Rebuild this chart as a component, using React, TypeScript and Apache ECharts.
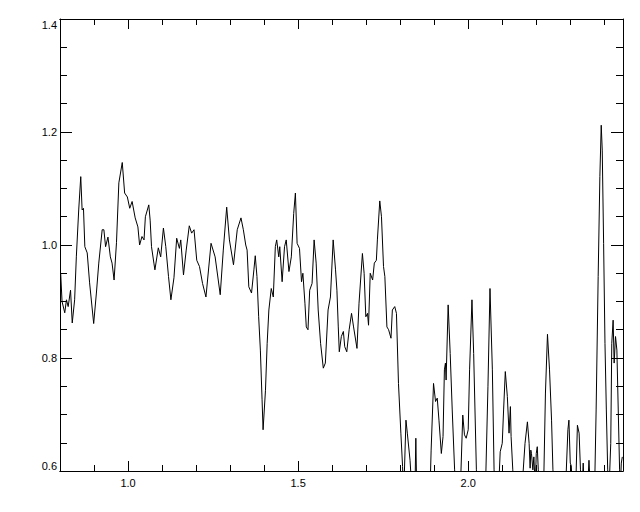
import React, { useEffect, useRef } from "react";
import * as echarts from "echarts";

const xValues = [
  0.802, 0.806, 0.814, 0.819, 0.824, 0.831, 0.836, 0.843, 0.848, 0.855, 0.861, 0.865, 0.869, 0.873, 0.880, 0.887, 0.899, 0.907, 0.914, 0.924,
  0.929, 0.934, 0.941, 0.948, 0.953, 0.959, 0.966, 0.973, 0.983, 0.990, 0.998, 1.005, 1.012, 1.021, 1.029, 1.034, 1.041, 1.047, 1.051, 1.061,
  1.065, 1.069, 1.076, 1.079, 1.089, 1.096, 1.104, 1.111, 1.119, 1.126, 1.135, 1.143, 1.151, 1.155, 1.163, 1.171, 1.180, 1.187, 1.194, 1.202,
  1.210, 1.219, 1.229, 1.244, 1.256, 1.271, 1.280, 1.290, 1.298, 1.310, 1.321, 1.332, 1.339, 1.346, 1.350, 1.355, 1.363, 1.370, 1.374, 1.379,
  1.384, 1.389, 1.394, 1.397, 1.404, 1.409, 1.414, 1.421, 1.427, 1.433, 1.437, 1.443, 1.446, 1.453, 1.460, 1.465, 1.473, 1.480, 1.487, 1.492,
  1.497, 1.504, 1.510, 1.514, 1.520, 1.524, 1.529, 1.534, 1.541, 1.547, 1.553, 1.559, 1.566, 1.574, 1.580, 1.588, 1.595, 1.603, 1.610, 1.614,
  1.618, 1.621, 1.627, 1.633, 1.637, 1.643, 1.650, 1.657, 1.663, 1.673, 1.679, 1.689, 1.694, 1.699, 1.704, 1.707, 1.712, 1.719, 1.724, 1.730,
  1.733, 1.740, 1.745, 1.751, 1.755, 1.761, 1.766, 1.773, 1.777, 1.784, 1.789, 1.795, 1.802, 1.807, 1.810, 1.817, 1.821, 1.829, 1.836, 1.843,
  1.846, 1.849, 1.874, 1.887, 1.891, 1.898, 1.904, 1.909, 1.914, 1.921, 1.926, 1.930, 1.933, 1.935, 1.941, 1.947, 1.953, 1.960, 1.968, 1.976,
  1.984, 1.989, 1.994, 2.000, 2.004, 2.011, 2.016, 2.024, 2.029, 2.050, 2.058, 2.064, 2.071, 2.076, 2.081, 2.088, 2.094, 2.100, 2.104, 2.109,
  2.115, 2.120, 2.124, 2.126, 2.131, 2.135, 2.156, 2.167, 2.174, 2.179, 2.182, 2.184, 2.186, 2.190, 2.193, 2.197, 2.200, 2.203, 2.206, 2.212,
  2.221, 2.227, 2.233, 2.239, 2.245, 2.249, 2.256, 2.285, 2.293, 2.296, 2.300, 2.303, 2.306, 2.316, 2.321, 2.326, 2.330, 2.335, 2.338, 2.341,
  2.351, 2.355, 2.359, 2.371, 2.376, 2.382, 2.387, 2.391, 2.394, 2.398, 2.402, 2.406, 2.410, 2.413, 2.419, 2.422, 2.426, 2.429, 2.433, 2.437,
  2.441, 2.445, 2.447, 2.450, 2.453,
];

const yValues = [
  0.950, 0.900, 0.880, 0.903, 0.891, 0.920, 0.862, 0.903, 0.979, 1.062, 1.121, 1.062, 1.065, 0.997, 0.986, 0.933, 0.861, 0.915, 0.968, 1.027,
  1.027, 0.997, 1.014, 0.979, 0.968, 0.938, 1.004, 1.110, 1.146, 1.092, 1.085, 1.065, 1.077, 1.048, 1.032, 1.000, 1.015, 1.009, 1.050, 1.071,
  1.044, 0.997, 0.968, 0.956, 0.995, 0.979, 1.030, 0.997, 0.944, 0.903, 0.942, 1.012, 0.994, 1.009, 0.947, 0.991, 1.034, 1.021, 1.027, 0.973,
  0.962, 0.932, 0.908, 1.003, 0.979, 0.912, 0.991, 1.067, 1.009, 0.965, 1.027, 1.048, 1.027, 1.000, 0.991, 0.926, 0.915, 0.956, 0.981, 0.944,
  0.873, 0.814, 0.726, 0.673, 0.743, 0.826, 0.885, 0.923, 0.908, 0.997, 1.009, 0.979, 0.997, 0.935, 0.997, 1.009, 0.953, 0.979, 1.056, 1.092,
  1.003, 0.994, 0.935, 0.950, 0.897, 0.855, 0.850, 0.920, 0.932, 1.009, 0.968, 0.885, 0.826, 0.782, 0.791, 0.885, 0.908, 1.009, 0.956, 0.920,
  0.855, 0.811, 0.838, 0.847, 0.820, 0.811, 0.850, 0.879, 0.855, 0.817, 0.897, 0.985, 0.950, 0.873, 0.879, 0.858, 0.950, 0.938, 0.968, 0.973,
  1.009, 1.078, 1.050, 0.962, 0.944, 0.855, 0.850, 0.835, 0.885, 0.891, 0.879, 0.755, 0.667, 0.608, 0.550, 0.690, 0.667, 0.619, 0.550, 0.550,
  0.658, 0.550, 0.550, 0.550, 0.637, 0.755, 0.723, 0.729, 0.690, 0.631, 0.661, 0.779, 0.791, 0.761, 0.894, 0.808, 0.708, 0.602, 0.550, 0.550,
  0.699, 0.664, 0.658, 0.673, 0.779, 0.903, 0.808, 0.602, 0.550, 0.550, 0.749, 0.923, 0.779, 0.602, 0.550, 0.550, 0.634, 0.649, 0.708, 0.776,
  0.732, 0.667, 0.714, 0.661, 0.602, 0.550, 0.550, 0.649, 0.687, 0.649, 0.605, 0.637, 0.631, 0.602, 0.625, 0.570, 0.631, 0.643, 0.602, 0.550,
  0.550, 0.738, 0.842, 0.779, 0.690, 0.602, 0.550, 0.550, 0.673, 0.690, 0.614, 0.609, 0.570, 0.570, 0.681, 0.667, 0.602, 0.570, 0.614, 0.570,
  0.570, 0.619, 0.570, 0.550, 0.708, 0.944, 1.121, 1.212, 1.168, 1.003, 0.826, 0.708, 0.602, 0.550, 0.649, 0.826, 0.867, 0.791, 0.838, 0.814,
  0.708, 0.602, 0.570, 0.614, 0.625,
];

const xMajorTicks = [1.0, 1.5, 2.0];
const xMinorTicks = [0.9, 1.1, 1.2, 1.3, 1.4, 1.6, 1.7, 1.8, 1.9, 2.1, 2.2, 2.3, 2.4];
const X_MIN = 0.8;
const X_MAX = 2.455;
const Y_MIN = 0.6;
const Y_MAX = 1.4;
const Y_STEP = 0.2;

export default function App() {
  const ref = useRef<HTMLDivElement>(null);
  useEffect(() => {
    if (!ref.current) return;
    const chart = echarts.init(ref.current, null, { renderer: "svg" });
    const black = "#000";
    const font = { color: "#000", fontSize: 11, fontFamily: "Liberation Sans, Arial, sans-serif" };
    const xAxisBase = (position: string, ticks: number[], len: number, labels: boolean) => ({
      type: "value",
      position,
      min: X_MIN,
      max: X_MAX,
      splitLine: { show: false },
      axisLine: { show: true, onZero: false, lineStyle: { color: black, width: 1 } },
      axisTick: { show: true, inside: true, length: len, customValues: ticks, lineStyle: { color: black, width: 1 } },
      axisLabel: labels
        ? { show: true, customValues: ticks, margin: 6, formatter: (v: number) => v.toFixed(1), ...font }
        : { show: false },
    });
    const yAxisBase = (position: string, labels: boolean) => ({
      type: "value",
      position,
      min: Y_MIN,
      max: Y_MAX,
      interval: Y_STEP,
      splitLine: { show: false },
      axisLine: { show: true, onZero: false, lineStyle: { color: black, width: 1 } },
      axisTick: { show: true, inside: true, length: 12, lineStyle: { color: black, width: 1 } },
      minorTick: { show: true, splitNumber: 4, length: 7, lineStyle: { color: black, width: 1 } },
      axisLabel: labels
        ? {
            show: true,
            margin: 3,
            formatter: (v: number) => v.toFixed(1),
            verticalAlignMaxLabel: "top",
            verticalAlignMinLabel: "bottom",
            ...font,
          }
        : { show: false },
    });
    chart.setOption({
      animation: false,
      backgroundColor: "#fff",
      grid: { left: 60, right: 17, top: 19, bottom: 41, containLabel: false },
      xAxis: [
        xAxisBase("bottom", xMajorTicks, 10, true),
        xAxisBase("bottom", xMinorTicks, 6, false),
        xAxisBase("top", xMajorTicks, 10, false),
        xAxisBase("top", xMinorTicks, 6, false),
      ],
      yAxis: [yAxisBase("left", true), yAxisBase("right", false)],
      series: [
        {
          type: "line",
          xAxisIndex: 0,
          yAxisIndex: 0,
          data: xValues.map((x, i) => [x, yValues[i]]),
          symbol: "none",
          showSymbol: false,
          clip: true,
          lineStyle: { color: black, width: 1 },
        },
      ],
    });
    return () => chart.dispose();
  }, []);
  return (
    <div
      ref={ref}
      style={{ position: "fixed", left: 0, top: 0, width: 640, height: 512, background: "#fff" }}
    />
  );
}
